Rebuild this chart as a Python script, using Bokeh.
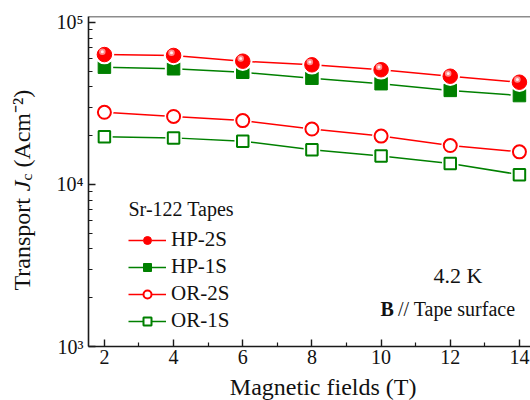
import math
from bokeh.plotting import figure
from bokeh.models import (Range1d, FixedTicker, Label, Legend, LegendItem, Span)
from bokeh.layouts import row, column
from bokeh.embed import file_html
from bokeh.resources import INLINE

# ---- data ----
fields = [2, 4, 6, 8, 10, 12, 14]
hp_2s = [63400, 62600, 57700, 54800, 51100, 46600, 42800]
hp_1s = [53000, 51800, 49300, 45300, 41900, 38100, 35400]
or_2s = [27900, 26300, 24800, 22000, 19900, 17400, 15900]
or_1s = [19700, 19400, 18500, 16400, 15000, 13500, 11500]

x_ticks = [2, 4, 6, 8, 10, 12, 14]
x_minor = [3, 5, 7, 9, 11, 13]
y_ticks = [1000, 10000, 100000]
y_tick_labels = ["10\u00b3", "10\u2074", "10\u2075"]

SERIF = "Liberation Serif"
SERIF_Q = "'Liberation Serif', serif"
RED = "#ff0000"
GREEN = "#008000"
AXC = "#1a1a1a"
TXT = "#111111"

YMAX = 108900

# ---------------- main plot ----------------
p = figure(width=486, height=372, y_axis_type="log",
           x_range=Range1d(1.54, 14.32), y_range=Range1d(1000, YMAX),
           output_backend="svg", toolbar_location=None,
           min_border_left=44, min_border_right=0, min_border_top=16,
           min_border_bottom=26, background_fill_color="white",
           border_fill_color="white")
p.outline_line_color = None
p.grid.visible = False

xa = p.xaxis[0]
ya = p.yaxis[0]
xa.ticker = FixedTicker(ticks=x_ticks, minor_ticks=x_minor)
minor_y = [m * 10 ** e for e in (3, 4) for m in range(2, 10)]
ya.ticker = FixedTicker(ticks=y_ticks, minor_ticks=minor_y)
ya.major_label_overrides = {t: lab for t, lab in zip(y_ticks, y_tick_labels)}
for ax in (xa, ya):
    ax.axis_line_color = AXC
    ax.axis_line_width = 1.6
    ax.major_tick_line_color = AXC
    ax.minor_tick_line_color = AXC
    ax.major_tick_line_width = 1.4
    ax.minor_tick_line_width = 1.2
    ax.major_tick_in = 7
    ax.major_tick_out = 0
    ax.minor_tick_in = 4
    ax.minor_tick_out = 0
    ax.major_label_text_font = SERIF_Q
    ax.major_label_text_font_size = "20px"
    ax.major_label_text_color = TXT
    ax.major_label_standoff = 5
xa.major_label_standoff = 3

# top frame line
p.add_layout(Span(location=YMAX, dimension="width", line_color=AXC, line_width=1.6))


def series(yvals, color, marker, size, filled, lw_mark):
    ln = p.line(fields, yvals, line_color=color, line_width=1.5)
    halo = p.scatter(fields, yvals, marker=marker, size=size + 5,
                     fill_color="white", line_color=None)
    mk = p.scatter(fields, yvals, marker=marker, size=size,
                   fill_color=color if filled else "white",
                   line_color=color, line_width=lw_mark)
    return [ln, halo, mk]


r_or1 = series(or_1s, GREEN, "square", 11.5, False, 2)
r_or2 = series(or_2s, RED, "circle", 13, False, 2)
r_hp1 = series(hp_1s, GREEN, "square", 12.5, True, 1)
r_hp2 = series(hp_2s, RED, "circle", 14.5, True, 1)
# glossy highlight on the HP-2S spheres
hl_x = [f - 0.06 for f in fields]
hl_y = [v * 1.04 for v in hp_2s]
hl1 = p.scatter(hl_x, hl_y, marker="circle", size=6.5, fill_color="#ff8a8a",
                line_color=None)
hl2 = p.scatter(hl_x, hl_y, marker="circle", size=3, fill_color="#fff0f0",
                line_color=None)

legend = Legend(items=[
    LegendItem(label="HP-2S", renderers=r_hp2),
    LegendItem(label="HP-1S", renderers=r_hp1),
    LegendItem(label="OR-2S", renderers=r_or2),
    LegendItem(label="OR-1S", renderers=r_or1),
], location=(40, 13))
legend.label_text_font = SERIF_Q
legend.label_text_font_size = "21px"
legend.label_text_color = TXT
legend.glyph_width = 38
legend.glyph_height = 20
legend.label_height = 20
legend.label_standoff = 5
legend.spacing = 2
legend.padding = 0
legend.margin = 0
legend.border_line_color = None
legend.background_fill_alpha = 0
p.add_layout(legend)


def lab(fig, text, x, y, size, style="normal", align="left", baseline="middle",
        angle=0, units="screen"):
    fig.add_layout(Label(x=x, y=y, x_units=units, y_units=units, text=text,
                         text_font=SERIF, text_font_size=f"{size}px",
                         text_font_style=style, text_align=align,
                         text_baseline=baseline, angle=angle, text_color=TXT))


lab(p, "Sr-122 Tapes", 40, 138, 20)
lab(p, "4.2 K", 345, 71, 22)
lab(p, "B", 292, 38, 20, style="bold")
lab(p, "// Tape surface", 309.5, 38, 20)


def blank(w, h):
    f = figure(width=w, height=h, x_range=Range1d(0, w), y_range=Range1d(0, h),
               output_backend="svg", toolbar_location=None,
               x_axis_location=None, y_axis_location=None,
               min_border=0, background_fill_color="white",
               border_fill_color="white")
    f.outline_line_color = None
    f.grid.visible = False
    return f


# ---------------- y-axis title (rotated, mixed styles) ----------------
ylab = blank(44, 400)
F = 24
S = 0.65 * F
bx = 21
y0 = 110
# (text, size, style, sideways shift, advance in em of its size, gap before in px)
pieces = [("Transport ", F, "normal", 0, 4.138, 0),
          ("J", F, "italic", 0, 0.444, 0),
          ("c", S, "normal", 5, 0.444, 0),
          ("(Acm\u207b\u00b2)", F, "normal", 0, 2.6, 0.25 * F)]
yy = y0
for txt, sz, st, dx, em, gap in pieces:
    yy += gap
    lab(ylab, txt, bx + dx, yy, round(sz, 1), style=st, baseline="alphabetic",
        angle=math.pi / 2, units="data")
    yy += em * sz

# ---------------- x-axis title ----------------
xlab = blank(486, 28)
lab(xlab, "Magnetic fields (T)", 258, 14, 24, align="center",
    baseline="alphabetic", units="data")

layout = row(ylab, column(p, xlab, spacing=0), spacing=0)

open("out.html", "w").write(file_html(layout, INLINE))
